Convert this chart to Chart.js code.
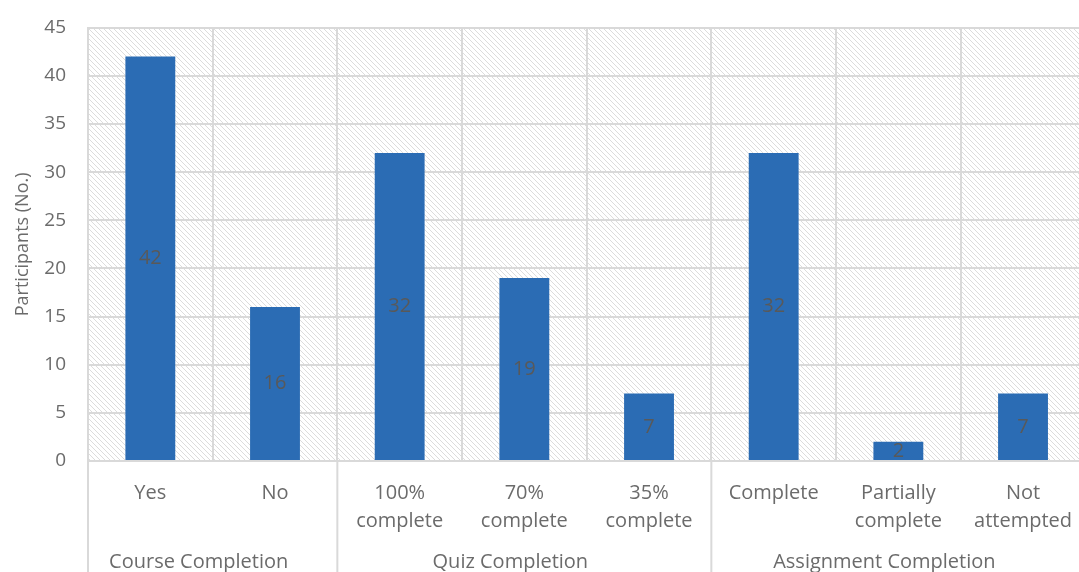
<!DOCTYPE html>
<html>
<head>
<meta charset="utf-8">
<script src="https://cdn.jsdelivr.net/npm/chart.js@4"></script>
<style>
  html, body { margin: 0; padding: 0; background: #fff; overflow: hidden; }
  #wrap { width: 1090px; height: 572px; }
</style>
</head>
<body>
<div id="wrap"><canvas id="myChart"></canvas></div>
<script>
let categories = [["Yes"], ["No"], ["100%", "complete"], ["70%", "complete"], ["35%", "complete"],
  ["Complete"], ["Partially", "complete"], ["Not", "attempted"]];
let participants = [42, 16, 32, 19, 7, 32, 2, 7];
let groupNames = ["Course Completion", "Quiz Completion", "Assignment Completion"];
let groupSizes = [2, 3, 3];
let yTicks = [0, 5, 10, 15, 20, 25, 30, 35, 40, 45];

const textColor = '#6b6b6b';
const gridColor = '#d9d9d9';
const fontFamily = '"Open Sans", "Noto Sans", sans-serif';

// diagonal hatch used behind the bars
function makeHatch() {
  const size = 5;
  const c = document.createElement('canvas');
  c.width = size; c.height = size;
  const g = c.getContext('2d');
  g.strokeStyle = '#dcdcdc';
  g.lineWidth = 1;
  g.beginPath();
  g.moveTo(-1, -1); g.lineTo(size + 1, size + 1);
  g.moveTo(-1, size - 1); g.lineTo(1, size + 1);
  g.moveTo(size - 1, -1); g.lineTo(size + 1, 1);
  g.stroke();
  return g.createPattern(c, 'repeat');
}

const hatchBackground = {
  id: 'hatchBackground',
  beforeDraw(chart) {
    const { ctx, chartArea } = chart;
    ctx.save();
    ctx.fillStyle = makeHatch();
    ctx.fillRect(chartArea.left, chartArea.top, chartArea.right - chartArea.left, chartArea.bottom - chartArea.top);
    ctx.restore();
  }
};

// value printed in the middle of each bar
const barValues = {
  id: 'barValues',
  afterDatasetsDraw(chart) {
    const ctx = chart.ctx;
    const meta = chart.getDatasetMeta(0);
    ctx.save();
    ctx.font = '20px ' + fontFamily;
    ctx.fillStyle = '#595959';
    ctx.textAlign = 'center';
    ctx.textBaseline = 'middle';
    meta.data.forEach((bar, i) => {
      ctx.fillText(String(participants[i]), bar.x, (bar.y + bar.base) / 2);
    });
    ctx.restore();
  }
};

// second row of category labels with separators between groups
const groupAxis = {
  id: 'groupAxis',
  afterDraw(chart) {
    const ctx = chart.ctx;
    const x = chart.scales.x;
    const bottom = chart.chartArea.bottom;
    const step = x.getPixelForValue(1) - x.getPixelForValue(0);
    ctx.save();
    ctx.strokeStyle = gridColor;
    ctx.lineWidth = 2;
    ctx.font = '20px ' + fontFamily;
    ctx.fillStyle = textColor;
    ctx.textAlign = 'center';
    ctx.textBaseline = 'middle';
    let start = 0;
    groupSizes.forEach((n, gi) => {
      const left = x.getPixelForValue(start) - step / 2;
      const right = x.getPixelForValue(start + n - 1) + step / 2;
      ctx.beginPath();
      ctx.moveTo(left, bottom);
      ctx.lineTo(left, chart.height);
      ctx.stroke();
      ctx.fillText(groupNames[gi], (left + right) / 2 - 14, 562);
      start += n;
    });
    ctx.restore();
  }
};

new Chart('myChart', {
  type: 'bar',
  data: {
    labels: categories,
    datasets: [{
      data: participants,
      backgroundColor: '#2b6cb4',
      barPercentage: 0.4,
      categoryPercentage: 1.0
    }]
  },
  plugins: [hatchBackground, barValues, groupAxis],
  options: {
    responsive: true,
    maintainAspectRatio: false,
    animation: false,
    layout: { padding: { top: 8, right: 0, left: 12, bottom: 0 } },
    plugins: {
      legend: { display: false },
      tooltip: { enabled: false }
    },
    scales: {
      x: {
        offset: true,
        grid: { color: gridColor, lineWidth: 2, offset: true, drawTicks: false },
        border: { color: gridColor, width: 2 },
        ticks: {
          color: textColor,
          padding: 18,
          maxRotation: 0,
          autoSkip: false,
          font: { family: fontFamily, size: 20, lineHeight: 1.4 }
        },
        afterFit(scale) { scale.height = 111; }
      },
      y: {
        min: 0,
        max: 45,
        afterBuildTicks(scale) { scale.ticks = yTicks.map(v => ({ value: v })); },
        grid: { color: gridColor, lineWidth: 2, drawTicks: false },
        border: { color: gridColor, width: 2 },
        ticks: {
          color: textColor,
          padding: 22,
          font: { family: fontFamily, size: 19, lineHeight: 0.6 }
        },
        title: {
          display: true,
          text: 'Participants (No.)',
          color: textColor,
          font: { family: fontFamily, size: 18 },
          padding: { top: 0, bottom: 6 }
        },
        afterFit(scale) { scale.width = 76; }
      }
    }
  }
});
</script>
</body>
</html>
